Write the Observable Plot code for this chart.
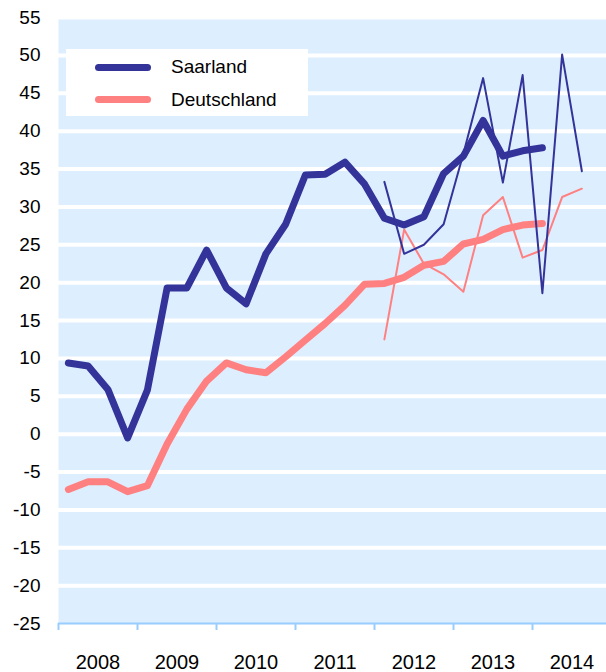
<!DOCTYPE html>
<html><head><meta charset="utf-8">
<script src="https://cdn.jsdelivr.net/npm/d3@7"></script>
<script src="https://cdn.jsdelivr.net/npm/@observablehq/plot@0.6"></script>
<style>
body{margin:0;background:#fff;font-family:"Liberation Sans",Arial,sans-serif;}
#wrap{position:relative;width:606px;height:672px;}
#legend{position:absolute;left:66px;top:49px;width:242px;height:67px;background:#fff;}
.item{position:absolute;left:29px;height:20px;display:flex;align-items:center;font-size:19px;color:#000;}
.sw{width:56px;height:7px;border-radius:4px;margin-right:20px;}
</style></head>
<body>
<div id="wrap">
  <div id="chart"></div>
  <div id="legend"></div>
</div>
<script>
// Quarterly series, trend lines 2008Q1..2014Q1
const trendStartYear = 2008;
const saarlandTrend = [9.4, 9.0, 5.9, -0.5, 5.8, 19.3, 19.3, 24.3, 19.3, 17.2, 23.8, 27.7, 34.2, 34.3, 35.9, 33.0, 28.5, 27.6, 28.7, 34.4, 36.7, 41.4, 36.7, 37.4, 37.8];
const deutschlandTrend = [-7.3, -6.3, -6.3, -7.6, -6.8, -1.3, 3.3, 7.0, 9.4, 8.5, 8.1, 10.2, 12.4, 14.6, 17.0, 19.8, 19.9, 20.7, 22.3, 22.8, 25.1, 25.7, 27.0, 27.6, 27.8];
// Quarterly raw values 2012Q1..2014Q3
const rawStartYear = 2012;
const saarlandQuarterly = [33.3, 23.8, 25.0, 27.7, 37.0, 47.0, 33.2, 47.4, 18.6, 50.1, 34.7];
const deutschlandQuarterly = [12.5, 27.0, 22.5, 21.1, 18.8, 28.9, 31.3, 23.3, 24.3, 31.3, 32.4];
const years = [2008, 2009, 2010, 2011, 2012, 2013, 2014];
const yTicks = [-25, -20, -15, -10, -5, 0, 5, 10, 15, 20, 25, 30, 35, 40, 45, 50, 55];
const seriesNames = ["Saarland", "Deutschland"];
const colors = ["#333399", "#ff8080"];

const toRows = (vals, startYear) => vals.map((v, i) => ({x: startYear + (i % 4 + 0.5) / 4 + Math.floor(i / 4), y: v}));

const chart = Plot.plot({
  width: 606, height: 672,
  marginLeft: 58, marginRight: 0, marginTop: 17, marginBottom: 49,
  style: {fontFamily: "'Liberation Sans', Arial, sans-serif", fontSize: "19px", color: "#000", background: "transparent"},
  x: {domain: [2008, 2008 + 548 / 79], axis: null},
  y: {domain: [-25, 55], axis: null},
  marks: [
    Plot.frame({fill: "#ddeeff", stroke: null}),
    Plot.ruleY(yTicks.filter(d => d > -25), {stroke: "#fff", strokeWidth: 4}),
    Plot.ruleY([-25], {stroke: "#99ccff", strokeWidth: 2}),
    Plot.axisX({ticks: years, tickFormat: () => "", tickSize: 7, stroke: "#99ccff", strokeWidth: 2, label: null}),
    Plot.axisX({ticks: years.map(y => y + 0.5), tickFormat: d => String(Math.floor(d)), tickSize: 0, tickPadding: 31, fontSize: 20, label: null}),
    Plot.axisY({ticks: yTicks, tickSize: 0, tickPadding: 18, tickFormat: d => String(d), label: null}),
    Plot.line(toRows(deutschlandTrend, trendStartYear), {x: "x", y: "y", stroke: colors[1], strokeWidth: 7, strokeLinejoin: "round", strokeLinecap: "round"}),
    Plot.line(toRows(saarlandTrend, trendStartYear), {x: "x", y: "y", stroke: colors[0], strokeWidth: 7, strokeLinejoin: "round", strokeLinecap: "round"}),
    Plot.line(toRows(deutschlandQuarterly, rawStartYear), {x: "x", y: "y", stroke: colors[1], strokeWidth: 2}),
    Plot.line(toRows(saarlandQuarterly, rawStartYear), {x: "x", y: "y", stroke: colors[0], strokeWidth: 2})
  ]
});
document.getElementById("chart").appendChild(chart);

const legend = document.getElementById("legend");
seriesNames.forEach((name, i) => {
  const item = document.createElement("div");
  item.className = "item";
  item.style.top = (8 + i * 32.6) + "px";
  const sw = document.createElement("div");
  sw.className = "sw";
  sw.style.background = colors[i];
  item.appendChild(sw);
  item.appendChild(document.createTextNode(name));
  legend.appendChild(item);
});
</script>
</body></html>
